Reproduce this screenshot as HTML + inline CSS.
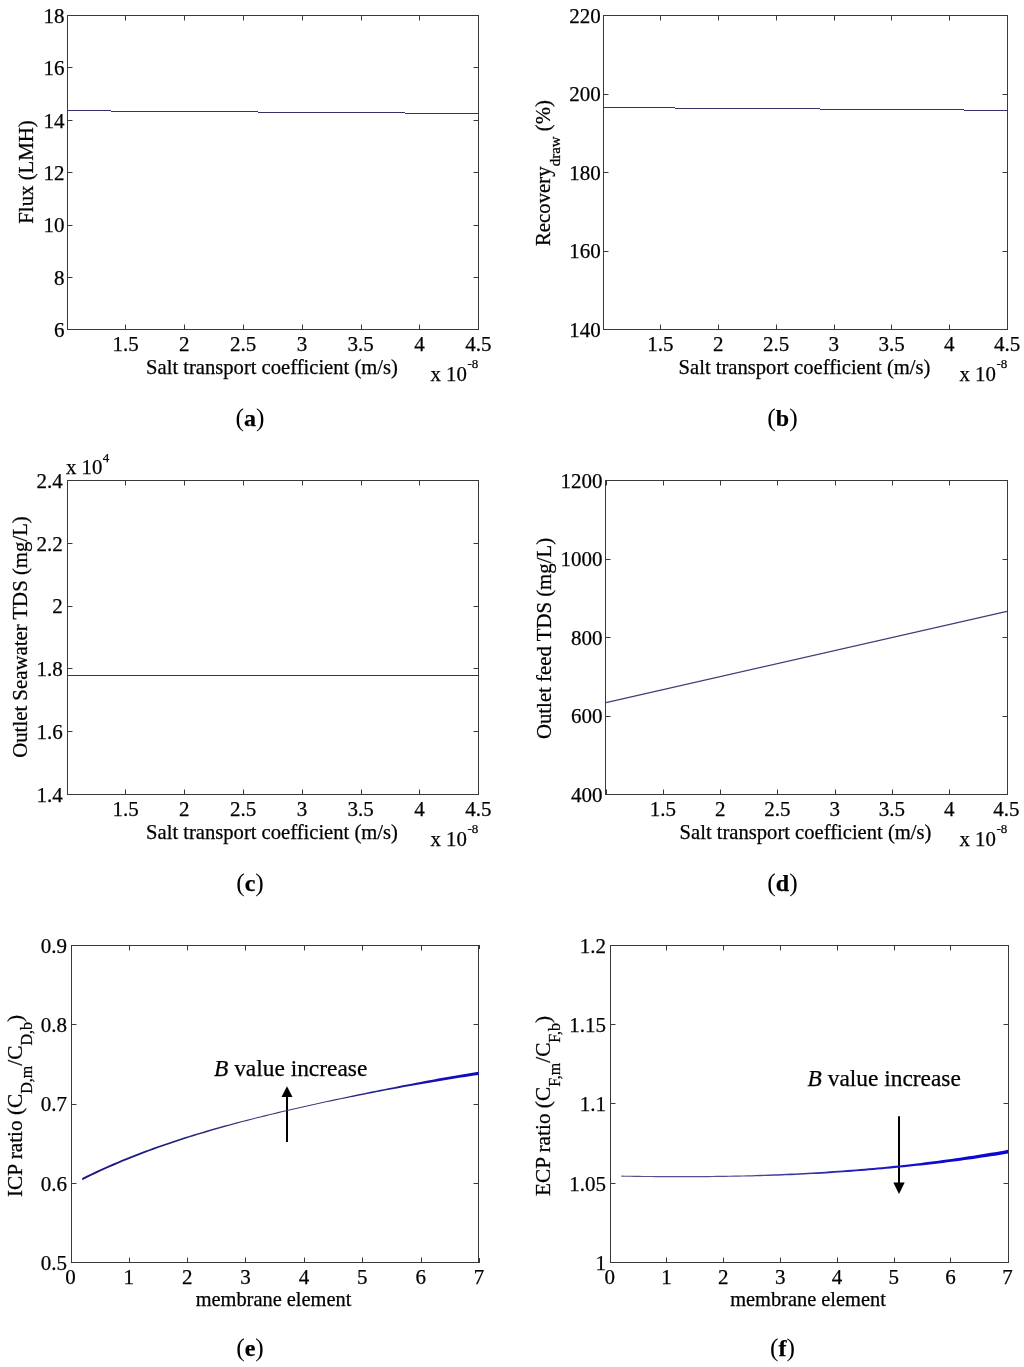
<!DOCTYPE html>
<html><head><meta charset="utf-8"><style>
html,body{margin:0;padding:0;background:#fff;}
svg{display:block;font-family:"Liberation Serif",serif;will-change:transform;}
text{stroke:#000;stroke-width:0.25px;}
</style></head><body>
<svg width="1024" height="1367" viewBox="0 0 1024 1367">
<rect width="1024" height="1367" fill="#fff"/>
<rect x="67.5" y="15.5" width="411" height="314" fill="none" stroke="#383838" stroke-width="1" shape-rendering="crispEdges"/>
<path d="M125.5 329v-4.5M125.5 16v4.5M184.5 329v-4.5M184.5 16v4.5M243.5 329v-4.5M243.5 16v4.5M302.5 329v-4.5M302.5 16v4.5M361.5 329v-4.5M361.5 16v4.5M419.5 329v-4.5M419.5 16v4.5M68 277.5h4.5M478 277.5h-4.5M68 225.5h4.5M478 225.5h-4.5M68 172.5h4.5M478 172.5h-4.5M68 120.5h4.5M478 120.5h-4.5M68 67.5h4.5M478 67.5h-4.5" stroke="#383838" stroke-width="1" fill="none"/>
<text x="125.5" y="351" font-size="21" text-anchor="middle" >1.5</text>
<text x="184.3" y="351" font-size="21" text-anchor="middle" >2</text>
<text x="243.1" y="351" font-size="21" text-anchor="middle" >2.5</text>
<text x="301.9" y="351" font-size="21" text-anchor="middle" >3</text>
<text x="360.7" y="351" font-size="21" text-anchor="middle" >3.5</text>
<text x="419.5" y="351" font-size="21" text-anchor="middle" >4</text>
<text x="478.3" y="351" font-size="21" text-anchor="middle" >4.5</text>
<text x="64.4" y="337.2" font-size="21" text-anchor="end" >6</text>
<text x="64.4" y="284.8" font-size="21" text-anchor="end" >8</text>
<text x="64.4" y="232.4" font-size="21" text-anchor="end" >10</text>
<text x="64.4" y="180" font-size="21" text-anchor="end" >12</text>
<text x="64.4" y="127.6" font-size="21" text-anchor="end" >14</text>
<text x="64.4" y="75.2" font-size="21" text-anchor="end" >16</text>
<text x="64.4" y="22.8" font-size="21" text-anchor="end" >18</text>
<text x="272" y="373.5" font-size="20.6" text-anchor="middle" >Salt transport coefficient (m/s)</text>
<text x="430.5" y="380.5" font-size="20.8" text-anchor="start" >x 10</text>
<text x="467.5" y="367.7" font-size="13" text-anchor="start" >-8</text>
<text transform="translate(33 172) rotate(-90)" font-size="20.8" text-anchor="middle">Flux (LMH)</text>
<path d="M68 110.5H111M111 111.5H258M258 112.5H405M405 113.5H478" stroke="#34306a" stroke-width="1.2" fill="none"/>
<rect x="603.5" y="15.5" width="404" height="314" fill="none" stroke="#383838" stroke-width="1" shape-rendering="crispEdges"/>
<path d="M660.5 329v-4.5M660.5 16v4.5M718.5 329v-4.5M718.5 16v4.5M776.5 329v-4.5M776.5 16v4.5M834.5 329v-4.5M834.5 16v4.5M891.5 329v-4.5M891.5 16v4.5M949.5 329v-4.5M949.5 16v4.5M604 251.5h4.5M1007 251.5h-4.5M604 172.5h4.5M1007 172.5h-4.5M604 94.5h4.5M1007 94.5h-4.5" stroke="#383838" stroke-width="1" fill="none"/>
<text x="660.47" y="351" font-size="21" text-anchor="middle" >1.5</text>
<text x="718.24" y="351" font-size="21" text-anchor="middle" >2</text>
<text x="776.01" y="351" font-size="21" text-anchor="middle" >2.5</text>
<text x="833.79" y="351" font-size="21" text-anchor="middle" >3</text>
<text x="891.56" y="351" font-size="21" text-anchor="middle" >3.5</text>
<text x="949.33" y="351" font-size="21" text-anchor="middle" >4</text>
<text x="1007.1" y="351" font-size="21" text-anchor="middle" >4.5</text>
<text x="600.7" y="336.8" font-size="21" text-anchor="end" >140</text>
<text x="600.7" y="258.3" font-size="21" text-anchor="end" >160</text>
<text x="600.7" y="179.8" font-size="21" text-anchor="end" >180</text>
<text x="600.7" y="101.3" font-size="21" text-anchor="end" >200</text>
<text x="600.7" y="22.8" font-size="21" text-anchor="end" >220</text>
<text x="804.5" y="373.5" font-size="20.6" text-anchor="middle" >Salt transport coefficient (m/s)</text>
<text x="959.5" y="380.5" font-size="20.8" text-anchor="start" >x 10</text>
<text x="996.5" y="367.7" font-size="13" text-anchor="start" >-8</text>
<text transform="translate(549.5 173) rotate(-90)" font-size="20.8" text-anchor="middle">Recovery<tspan font-size="15" dy="10.5">draw</tspan><tspan dy="-10.5"> (%)</tspan></text>
<path d="M604 107.5H675M675 108.5H820M820 109.5H964M964 110.5H1007" stroke="#34306a" stroke-width="1.2" fill="none"/>
<rect x="67.5" y="480.5" width="411" height="314" fill="none" stroke="#383838" stroke-width="1" shape-rendering="crispEdges"/>
<path d="M125.5 794v-4.5M125.5 481v4.5M184.5 794v-4.5M184.5 481v4.5M243.5 794v-4.5M243.5 481v4.5M302.5 794v-4.5M302.5 481v4.5M361.5 794v-4.5M361.5 481v4.5M419.5 794v-4.5M419.5 481v4.5M68 731.5h4.5M478 731.5h-4.5M68 668.5h4.5M478 668.5h-4.5M68 606.5h4.5M478 606.5h-4.5M68 543.5h4.5M478 543.5h-4.5" stroke="#383838" stroke-width="1" fill="none"/>
<text x="125.5" y="816" font-size="21" text-anchor="middle" >1.5</text>
<text x="184.3" y="816" font-size="21" text-anchor="middle" >2</text>
<text x="243.1" y="816" font-size="21" text-anchor="middle" >2.5</text>
<text x="301.9" y="816" font-size="21" text-anchor="middle" >3</text>
<text x="360.7" y="816" font-size="21" text-anchor="middle" >3.5</text>
<text x="419.5" y="816" font-size="21" text-anchor="middle" >4</text>
<text x="478.3" y="816" font-size="21" text-anchor="middle" >4.5</text>
<text x="62.7" y="801.8" font-size="21" text-anchor="end" >1.4</text>
<text x="62.7" y="739" font-size="21" text-anchor="end" >1.6</text>
<text x="62.7" y="676.2" font-size="21" text-anchor="end" >1.8</text>
<text x="62.7" y="613.4" font-size="21" text-anchor="end" >2</text>
<text x="62.7" y="550.6" font-size="21" text-anchor="end" >2.2</text>
<text x="62.7" y="487.8" font-size="21" text-anchor="end" >2.4</text>
<text x="272" y="838.5" font-size="20.6" text-anchor="middle" >Salt transport coefficient (m/s)</text>
<text x="430.5" y="845.5" font-size="20.8" text-anchor="start" >x 10</text>
<text x="467.5" y="832.7" font-size="13" text-anchor="start" >-8</text>
<text transform="translate(27 637) rotate(-90)" font-size="20.8" text-anchor="middle">Outlet Seawater TDS (mg/L)</text>
<text x="66" y="473.6" font-size="20.8" text-anchor="start" >x 10</text>
<text x="102.8" y="461.6" font-size="13" text-anchor="start" >4</text>
<path d="M68 675.5H478" stroke="#34306a" stroke-width="1.2" fill="none"/>
<rect x="605.5" y="480.5" width="402" height="314" fill="none" stroke="#383838" stroke-width="1" shape-rendering="crispEdges"/>
<path d="M606.5 794v-4.5M606.5 481v4.5M663.5 794v-4.5M663.5 481v4.5M720.5 794v-4.5M720.5 481v4.5M777.5 794v-4.5M777.5 481v4.5M835.5 794v-4.5M835.5 481v4.5M892.5 794v-4.5M892.5 481v4.5M949.5 794v-4.5M949.5 481v4.5M606 716.5h4.5M1007 716.5h-4.5M606 637.5h4.5M1007 637.5h-4.5M606 559.5h4.5M1007 559.5h-4.5" stroke="#383838" stroke-width="1" fill="none"/>
<text x="662.95" y="816" font-size="21" text-anchor="middle" >1.5</text>
<text x="720.2" y="816" font-size="21" text-anchor="middle" >2</text>
<text x="777.45" y="816" font-size="21" text-anchor="middle" >2.5</text>
<text x="834.7" y="816" font-size="21" text-anchor="middle" >3</text>
<text x="891.95" y="816" font-size="21" text-anchor="middle" >3.5</text>
<text x="949.2" y="816" font-size="21" text-anchor="middle" >4</text>
<text x="1006.45" y="816" font-size="21" text-anchor="middle" >4.5</text>
<text x="602.6" y="801.8" font-size="21" text-anchor="end" >400</text>
<text x="602.6" y="723.3" font-size="21" text-anchor="end" >600</text>
<text x="602.6" y="644.8" font-size="21" text-anchor="end" >800</text>
<text x="602.6" y="566.3" font-size="21" text-anchor="end" >1000</text>
<text x="602.6" y="487.8" font-size="21" text-anchor="end" >1200</text>
<text x="805.5" y="838.5" font-size="20.6" text-anchor="middle" >Salt transport coefficient (m/s)</text>
<text x="959.5" y="845.5" font-size="20.8" text-anchor="start" >x 10</text>
<text x="996.5" y="832.7" font-size="13" text-anchor="start" >-8</text>
<text transform="translate(551 638.5) rotate(-90)" font-size="20.8" text-anchor="middle">Outlet feed TDS (mg/L)</text>
<path d="M606 702.7L1007 611.3" stroke="#403d76" stroke-width="1.25" fill="none"/>
<rect x="71.5" y="945.5" width="407" height="317" fill="none" stroke="#383838" stroke-width="1" shape-rendering="crispEdges"/>
<path d="M129.5 1262v-4.5M129.5 946v4.5M187.5 1262v-4.5M187.5 946v4.5M245.5 1262v-4.5M245.5 946v4.5M304.5 1262v-4.5M304.5 946v4.5M362.5 1262v-4.5M362.5 946v4.5M421.5 1262v-4.5M421.5 946v4.5M72 1183.5h4.5M478 1183.5h-4.5M72 1104.5h4.5M478 1104.5h-4.5M72 1024.5h4.5M478 1024.5h-4.5" stroke="#383838" stroke-width="1" fill="none"/>
<text x="70.4" y="1283.5" font-size="21" text-anchor="middle" >0</text>
<text x="128.79" y="1283.5" font-size="21" text-anchor="middle" >1</text>
<text x="187.17" y="1283.5" font-size="21" text-anchor="middle" >2</text>
<text x="245.56" y="1283.5" font-size="21" text-anchor="middle" >3</text>
<text x="303.94" y="1283.5" font-size="21" text-anchor="middle" >4</text>
<text x="362.33" y="1283.5" font-size="21" text-anchor="middle" >5</text>
<text x="420.71" y="1283.5" font-size="21" text-anchor="middle" >6</text>
<text x="479.1" y="1283.5" font-size="21" text-anchor="middle" >7</text>
<text x="66.9" y="1269.8" font-size="21" text-anchor="end" >0.5</text>
<text x="66.9" y="1190.55" font-size="21" text-anchor="end" >0.6</text>
<text x="66.9" y="1111.3" font-size="21" text-anchor="end" >0.7</text>
<text x="66.9" y="1032.05" font-size="21" text-anchor="end" >0.8</text>
<text x="66.9" y="952.8" font-size="21" text-anchor="end" >0.9</text>
<text x="273.5" y="1306" font-size="20.4" text-anchor="middle" >membrane element</text>
<path d="M479.5 945v4M479.5 1263v-5" stroke="#383838" stroke-width="1"/>
<text transform="translate(22 1106) rotate(-90)" font-size="21.3" text-anchor="middle">ICP ratio (C<tspan font-size="16" dy="9.5">D,m</tspan><tspan dy="-9.5">/C</tspan><tspan font-size="16" dy="9.5">D,b</tspan><tspan dy="-9.5">)</tspan></text>
<path d="M287 1142V1096" stroke="#000" stroke-width="2"/><polygon points="281.5,1097 292.5,1097 287,1086.3" fill="#000"/>
<defs><linearGradient id="ge" gradientUnits="userSpaceOnUse" x1="82.2" y1="0" x2="478.5" y2="0"><stop offset="0.000" stop-color="#1c1480"/><stop offset="0.196" stop-color="#22207f"/><stop offset="0.423" stop-color="#34326e"/><stop offset="0.625" stop-color="#323278"/><stop offset="0.852" stop-color="#1a12a8"/><stop offset="1.000" stop-color="#0c06c8"/></linearGradient></defs>
<polygon points="82.20,1178.01 86.65,1175.82 91.11,1173.66 95.56,1171.56 100.01,1169.50 104.46,1167.48 108.92,1165.50 113.37,1163.57 117.82,1161.67 122.28,1159.82 126.73,1158.00 131.18,1156.21 135.63,1154.47 140.09,1152.76 144.54,1151.08 148.99,1149.44 153.44,1147.83 157.90,1146.24 162.35,1144.69 166.80,1143.17 171.26,1141.67 175.71,1140.20 180.16,1138.75 184.61,1137.34 189.07,1135.94 193.52,1134.57 197.97,1133.22 202.43,1131.90 206.88,1130.60 211.33,1129.33 215.78,1128.07 220.24,1126.84 224.69,1125.62 229.14,1124.42 233.60,1123.23 238.05,1122.07 242.50,1120.92 246.95,1119.78 251.41,1118.65 255.86,1117.52 260.31,1116.41 264.77,1115.30 269.22,1114.22 273.67,1113.14 278.12,1112.07 282.58,1111.02 287.03,1109.98 291.48,1108.94 295.93,1107.92 300.39,1106.91 304.84,1105.90 309.29,1104.91 313.75,1103.93 318.20,1102.95 322.65,1101.98 327.10,1101.02 331.56,1100.06 336.01,1099.10 340.46,1098.14 344.92,1097.19 349.37,1096.24 353.82,1095.30 358.27,1094.37 362.73,1093.45 367.18,1092.53 371.63,1091.62 376.09,1090.72 380.54,1089.82 384.99,1088.92 389.44,1088.02 393.90,1087.13 398.35,1086.25 402.80,1085.37 407.26,1084.50 411.71,1083.64 416.16,1082.78 420.61,1081.94 425.07,1081.10 429.52,1080.26 433.97,1079.44 438.42,1078.62 442.88,1077.82 447.33,1077.03 451.78,1076.25 456.24,1075.48 460.69,1074.72 465.14,1073.96 469.59,1073.22 474.05,1072.49 478.50,1071.78 478.50,1074.88 474.05,1075.54 469.59,1076.21 465.14,1076.90 460.69,1077.59 456.24,1078.29 451.78,1079.01 447.33,1079.73 442.88,1080.46 438.42,1081.20 433.97,1081.94 429.52,1082.69 425.07,1083.45 420.61,1084.21 416.16,1084.99 411.71,1085.77 407.26,1086.56 402.80,1087.35 398.35,1088.15 393.90,1088.96 389.44,1089.78 384.99,1090.60 380.54,1091.43 376.09,1092.28 371.63,1093.14 367.18,1094.01 362.73,1094.88 358.27,1095.76 353.82,1096.64 349.37,1097.53 344.92,1098.43 340.46,1099.34 336.01,1100.26 331.56,1101.18 327.10,1102.12 322.65,1103.08 318.20,1104.05 313.75,1105.03 309.29,1106.01 304.84,1107.00 300.39,1108.01 295.93,1109.02 291.48,1110.04 287.03,1111.08 282.58,1112.12 278.12,1113.17 273.67,1114.24 269.22,1115.32 264.77,1116.40 260.31,1117.51 255.86,1118.62 251.41,1119.75 246.95,1120.91 242.50,1122.09 238.05,1123.29 233.60,1124.50 229.14,1125.73 224.69,1126.97 220.24,1128.23 215.78,1129.51 211.33,1130.81 206.88,1132.13 202.43,1133.48 197.97,1134.83 193.52,1136.21 189.07,1137.60 184.61,1139.02 180.16,1140.47 175.71,1141.94 171.26,1143.43 166.80,1144.95 162.35,1146.50 157.90,1148.08 153.44,1149.69 148.99,1151.33 144.54,1153.00 140.09,1154.70 135.63,1156.44 131.18,1158.21 126.73,1160.01 122.28,1161.85 117.82,1163.72 113.37,1165.64 108.92,1167.59 104.46,1169.59 100.01,1171.62 95.56,1173.70 91.11,1175.83 86.65,1178.00 82.20,1180.21" fill="url(#ge)"/>
<text x="214" y="1076" font-size="23.4" text-anchor="start" ><tspan font-style="italic">B</tspan> value increase</text>
<rect x="610.5" y="945.5" width="398" height="317" fill="none" stroke="#383838" stroke-width="1" shape-rendering="crispEdges"/>
<path d="M666.5 1262v-4.5M666.5 946v4.5M723.5 1262v-4.5M723.5 946v4.5M780.5 1262v-4.5M780.5 946v4.5M837.5 1262v-4.5M837.5 946v4.5M894.5 1262v-4.5M894.5 946v4.5M950.5 1262v-4.5M950.5 946v4.5M611 1183.5h4.5M1008 1183.5h-4.5M611 1103.5h4.5M1008 1103.5h-4.5M611 1024.5h4.5M1008 1024.5h-4.5" stroke="#383838" stroke-width="1" fill="none"/>
<text x="609.7" y="1283.5" font-size="21" text-anchor="middle" >0</text>
<text x="666.51" y="1283.5" font-size="21" text-anchor="middle" >1</text>
<text x="723.33" y="1283.5" font-size="21" text-anchor="middle" >2</text>
<text x="780.14" y="1283.5" font-size="21" text-anchor="middle" >3</text>
<text x="836.96" y="1283.5" font-size="21" text-anchor="middle" >4</text>
<text x="893.77" y="1283.5" font-size="21" text-anchor="middle" >5</text>
<text x="950.59" y="1283.5" font-size="21" text-anchor="middle" >6</text>
<text x="1007.4" y="1283.5" font-size="21" text-anchor="middle" >7</text>
<text x="605.9" y="1269.8" font-size="21" text-anchor="end" >1</text>
<text x="605.9" y="1190.55" font-size="21" text-anchor="end" >1.05</text>
<text x="605.9" y="1111.3" font-size="21" text-anchor="end" >1.1</text>
<text x="605.9" y="1032.05" font-size="21" text-anchor="end" >1.15</text>
<text x="605.9" y="952.8" font-size="21" text-anchor="end" >1.2</text>
<text x="808" y="1306" font-size="20.4" text-anchor="middle" >membrane element</text>
<text transform="translate(550 1106) rotate(-90)" font-size="21.3" text-anchor="middle">ECP ratio (C<tspan font-size="16" dy="9.5">F,m</tspan><tspan dy="-9.5">/C</tspan><tspan font-size="16" dy="9.5">F,b</tspan><tspan dy="-9.5">)</tspan></text>
<path d="M899 1116.2V1183" stroke="#000" stroke-width="2"/><polygon points="893.3,1182.6 904.7,1182.6 899,1193.9" fill="#000"/>
<defs><linearGradient id="gf" gradientUnits="userSpaceOnUse" x1="621.3" y1="0" x2="1008" y2="0"><stop offset="0.000" stop-color="#55528a"/><stop offset="0.307" stop-color="#4e4c96"/><stop offset="0.591" stop-color="#2420b8"/><stop offset="0.850" stop-color="#0c08d0"/><stop offset="1.000" stop-color="#0a06d8"/></linearGradient></defs>
<polygon points="621.30,1175.55 625.64,1175.63 629.99,1175.70 634.33,1175.77 638.68,1175.83 643.02,1175.89 647.37,1175.94 651.71,1175.98 656.06,1176.02 660.40,1176.05 664.75,1176.08 669.09,1176.10 673.44,1176.11 677.78,1176.11 682.13,1176.11 686.47,1176.11 690.82,1176.10 695.16,1176.08 699.51,1176.05 703.85,1176.02 708.20,1175.97 712.54,1175.93 716.89,1175.87 721.23,1175.81 725.58,1175.74 729.92,1175.66 734.27,1175.58 738.61,1175.48 742.96,1175.38 747.30,1175.25 751.65,1175.13 755.99,1174.99 760.34,1174.84 764.68,1174.69 769.03,1174.53 773.37,1174.36 777.72,1174.18 782.06,1173.99 786.41,1173.80 790.75,1173.59 795.10,1173.38 799.44,1173.16 803.79,1172.93 808.13,1172.69 812.48,1172.44 816.82,1172.18 821.17,1171.92 825.51,1171.64 829.86,1171.36 834.20,1171.06 838.55,1170.76 842.89,1170.44 847.24,1170.12 851.58,1169.78 855.93,1169.43 860.27,1169.08 864.62,1168.71 868.96,1168.34 873.31,1167.95 877.65,1167.55 882.00,1167.15 886.34,1166.73 890.69,1166.30 895.03,1165.86 899.38,1165.41 903.72,1164.93 908.07,1164.44 912.41,1163.94 916.76,1163.43 921.10,1162.90 925.45,1162.37 929.79,1161.82 934.14,1161.26 938.48,1160.69 942.83,1160.11 947.17,1159.52 951.52,1158.91 955.86,1158.29 960.21,1157.66 964.55,1157.01 968.90,1156.35 973.24,1155.68 977.59,1155.00 981.93,1154.30 986.28,1153.59 990.62,1152.87 994.97,1152.14 999.31,1151.39 1003.66,1150.63 1008.00,1149.85 1008.00,1153.55 1003.66,1154.26 999.31,1154.96 994.97,1155.65 990.62,1156.32 986.28,1156.98 981.93,1157.62 977.59,1158.26 973.24,1158.88 968.90,1159.48 964.55,1160.08 960.21,1160.66 955.86,1161.24 951.52,1161.80 947.17,1162.35 942.83,1162.88 938.48,1163.41 934.14,1163.92 929.79,1164.42 925.45,1164.91 921.10,1165.39 916.76,1165.85 912.41,1166.31 908.07,1166.75 903.72,1167.18 899.38,1167.60 895.03,1168.03 890.69,1168.44 886.34,1168.85 882.00,1169.24 877.65,1169.62 873.31,1169.99 868.96,1170.35 864.62,1170.70 860.27,1171.04 855.93,1171.37 851.58,1171.69 847.24,1172.00 842.89,1172.30 838.55,1172.59 834.20,1172.87 829.86,1173.14 825.51,1173.39 821.17,1173.64 816.82,1173.89 812.48,1174.12 808.13,1174.34 803.79,1174.55 799.44,1174.76 795.10,1174.95 790.75,1175.13 786.41,1175.31 782.06,1175.47 777.72,1175.63 773.37,1175.78 769.03,1175.92 764.68,1176.06 760.34,1176.18 755.99,1176.30 751.65,1176.40 747.30,1176.50 742.96,1176.60 738.61,1176.68 734.27,1176.77 729.92,1176.85 725.58,1176.93 721.23,1176.99 716.89,1177.05 712.54,1177.10 708.20,1177.15 703.85,1177.18 699.51,1177.21 695.16,1177.24 690.82,1177.25 686.47,1177.26 682.13,1177.27 677.78,1177.26 673.44,1177.25 669.09,1177.24 664.75,1177.21 660.40,1177.18 656.06,1177.15 651.71,1177.11 647.37,1177.06 643.02,1177.01 638.68,1176.95 634.33,1176.88 629.99,1176.81 625.64,1176.74 621.30,1176.65" fill="url(#gf)"/>
<text x="807.6" y="1086" font-size="23.4" text-anchor="start" ><tspan font-style="italic">B</tspan> value increase</text>
<text x="250" y="426.3" font-size="24" text-anchor="middle"><tspan font-size="25.5" stroke="none">(</tspan><tspan font-weight="bold">a</tspan><tspan font-size="25.5" stroke="none">)</tspan></text>
<text x="782.5" y="426.3" font-size="24" text-anchor="middle"><tspan font-size="25.5" stroke="none">(</tspan><tspan font-weight="bold">b</tspan><tspan font-size="25.5" stroke="none">)</tspan></text>
<text x="250" y="890.8" font-size="24" text-anchor="middle"><tspan font-size="25.5" stroke="none">(</tspan><tspan font-weight="bold">c</tspan><tspan font-size="25.5" stroke="none">)</tspan></text>
<text x="782.5" y="890.8" font-size="24" text-anchor="middle"><tspan font-size="25.5" stroke="none">(</tspan><tspan font-weight="bold">d</tspan><tspan font-size="25.5" stroke="none">)</tspan></text>
<text x="250" y="1356.3" font-size="24" text-anchor="middle"><tspan font-size="25.5" stroke="none">(</tspan><tspan font-weight="bold">e</tspan><tspan font-size="25.5" stroke="none">)</tspan></text>
<text x="782.5" y="1356.3" font-size="24" text-anchor="middle"><tspan font-size="25.5" stroke="none">(</tspan><tspan font-weight="bold">f</tspan><tspan font-size="25.5" stroke="none">)</tspan></text>
</svg></body></html>
